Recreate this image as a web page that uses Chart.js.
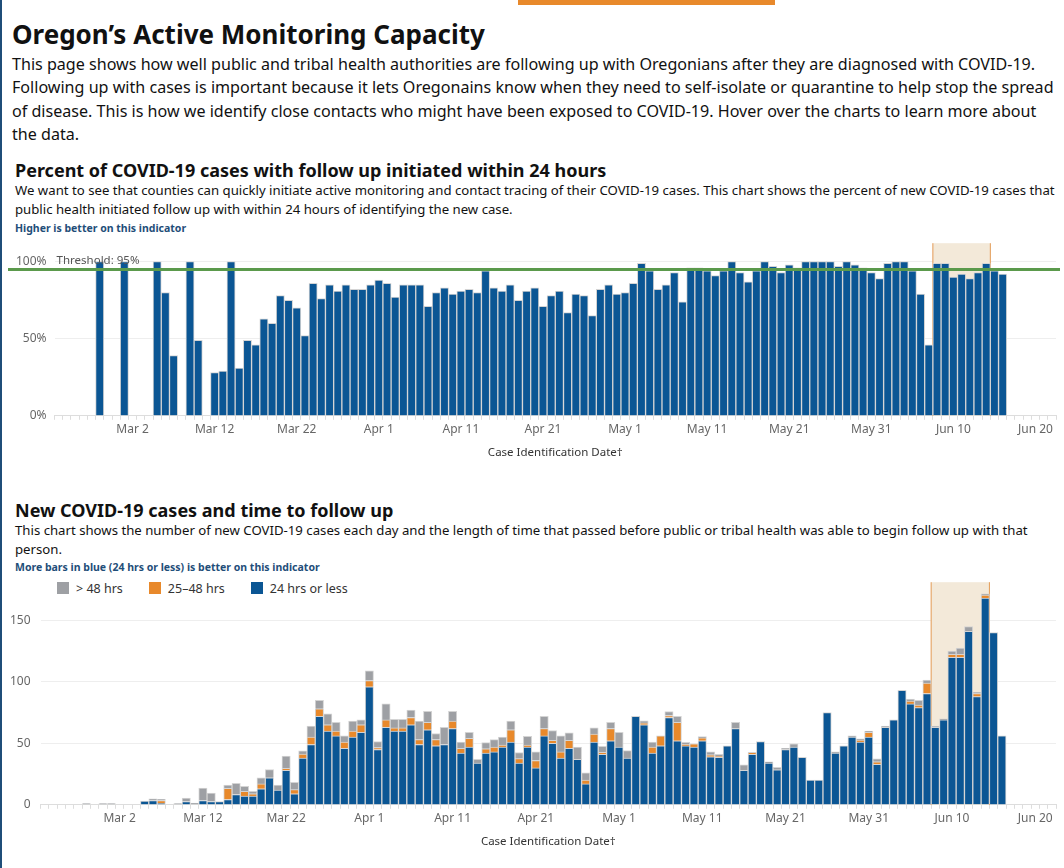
<!DOCTYPE html>
<html lang="en">
<head>
<meta charset="UTF-8">
<title>Oregon's Active Monitoring Capacity</title>
<script src="https://cdn.jsdelivr.net/npm/chart.js"></script>
<style>
    body { margin: 0; width: 1064px; height: 868px; position: relative; overflow: hidden; background: #fff;
           font-family: "Noto Sans", "Open Sans", sans-serif; color: #111; }
    .leftbar { position: absolute; left: 0; top: 0; width: 2px; height: 868px; background: #1f4e79; }
    .topbar { position: absolute; left: 518px; top: 0; width: 257px; height: 5px; background: #e8892b; }
    h1 { position: absolute; left: 12px; top: 16px; margin: 0; font-size: 26px; font-weight: 700; }
    .intro { position: absolute; left: 12px; top: 53px; width: 1042px; margin: 0; font-size: 16.1px; line-height: 23.3px; }
    h2 { position: absolute; left: 15px; margin: 0; font-size: 18px; font-weight: 700; }
    .sub { position: absolute; left: 15px; width: 1040px; margin: 0; font-size: 13.2px; line-height: 19px; }
    .note { position: absolute; left: 15px; margin: 0; font-size: 10.5px; font-weight: 700; color: #1f4e79; }
    .legend { position: absolute; left: 57px; top: 580px; font-size: 12.5px; color: #333; display: flex; gap: 26px; }
    .legend span i { display: inline-block; width: 12px; height: 12px; margin-right: 7px; vertical-align: -1px; }
    .box { position: absolute; }
</style>
</head>
<body>
<div class="leftbar"></div>
<div class="topbar"></div>
<h1>Oregon’s Active Monitoring Capacity</h1>
<p class="intro">This page shows how well public and tribal health authorities are following up with Oregonians after they are diagnosed with COVID-19. Following up with cases is important because it lets Oregonains know when they need to self-isolate or quarantine to help stop the spread of disease. This is how we identify close contacts who might have been exposed to COVID-19. Hover over the charts to learn more about the data.</p>

<h2 style="top:158px">Percent of COVID-19 cases with follow up initiated within 24 hours</h2>
<p class="sub" style="top:181px">We want to see that counties can quickly initiate active monitoring and contact tracing of their COVID-19 cases. This chart shows the percent of new COVID-19 cases that public health initiated follow up with within 24 hours of identifying the new case.</p>
<p class="note" style="top:221px">Higher is better on this indicator</p>
<div class="box" style="left:8px; top:228px; width:1052px; height:236px;"><canvas id="pctChart"></canvas></div>

<h2 style="top:498px">New COVID-19 cases and time to follow up</h2>
<p class="sub" style="top:521px">This chart shows the number of new COVID-19 cases each day and the length of time that passed before public or tribal health was able to begin follow up with that person.</p>
<p class="note" style="top:560px">More bars in blue (24 hrs or less) is better on this indicator</p>
<div class="legend">
    <span><i style="background:#9ea0a4"></i>&gt; 48 hrs</span>
    <span><i style="background:#e8892b"></i>25–48 hrs</span>
    <span><i style="background:#0b5694"></i>24 hrs or less</span>
</div>
<div class="box" style="left:0px; top:565px; width:1060px; height:288px;"><canvas id="caseChart"></canvas></div>

<script>
    // days from Feb 22 to Jun 22, 2020
    const startDate = new Date(2020, 1, 22);
    const dayCount = 122;
    const months = ['Jan','Feb','Mar','Apr','May','Jun'];
    const dates = [];
    for (let i = 0; i < dayCount; i++) {
        const d = new Date(startDate); d.setDate(d.getDate() + i);
        dates.push(months[d.getMonth()] + ' ' + d.getDate());
    }
    const tickLabels = ['Mar 2','Mar 12','Mar 22','Apr 1','Apr 11','Apr 21','May 1','May 11','May 21','May 31','Jun 10','Jun 20'];
    const highlight = ['Jun 8', 'Jun 14'];
    const threshold = 95;

    // percent with follow up within 24 hours (Feb 22 .. Jun 22)
    const pct = [
        null,null,null,null,null,100,null,null,
        100,null,null,null,100,80,39,null,100,49, null,28,29,100,31,49,46,63,60,78, 75,70,52,86,76,85,81,85,82,82, 85,
        88,86,77,85,85,85,71,80,83,79, 81,82,80,94,83,81,85,75,81,83, 71,78,81,67,79,78,65,82,85,79,
        80,86,99,94,82,85,93,74,96,96, 94,91,94,100,93,87,94,100,97,93, 98,96,100,100,100,100,97,100,98,96, 93,
        89,99,100,100,94,79,46,99,99,90, 92,89,93,99,94,92, null,null,null,null,null,null
    ];

    // new cases by time to follow up
    const within24 = [
        0,0,0,0,0,0,0,0,
        0,0,0,0,3,3.5,1,0,0,2.7, 0,3.5,2.7,2.7,4.3,8.4,7,7,13,22, 12,28,9,38,49,72,60,56,46,55, 59,
        96,45,63,60,60,65,49,61,48,49, 62,42,47,34,42,43,47,51,34,47, 30,56,50,38,46,37,17,51,41,52,
        47,38,72,65,42,48,71,52,48,47, 52,39,38.5,48,62,28,41,51.5,34,28.5, 45,47,38.5,20,20,75,42,48,55,51, 55,
        33,63,69,93,82,79,90.5,63,69,120, 120,141,88,168,140,56, null,null,null,null,null,null
    ];
    const hrs25to48 = [
        0,0,0,0,0,0,0,0,
        0,0,0,0,0,0,2.5,0,0,0, 0,0,0,0,9,0,4,2,4,0, 0,1.6,3.3,3.3,6,6,5,4,5,5, 6,
        5,1.5,6,2.5,2.5,6,4,6,5,0, 6,4,7,0,3.5,4,1.6,10,3.5,1.6, 6,6,2.4,5,6.5,0,3,6.5,1.6,10,
        0,0,0,1.6,5,8,1.6,15,1,2.5, 2.4,1.6,1,0,0,0,1.6,0,0,0, 0,0,0,0,0,0,0,0,0,1.6, 4,
        2,0,0,0,2.4,2,8.5,0,0,2.4, 2.4,0,2.5,2.5,0,0, null,null,null,null,null,null
    ];
    const over48 = [
        0,0,0,0,0,1,0,1,
        1,0,0,0,0,1.4,1,0,1,2.7, 1.4,10,6.8,0,2.7,9,4,2,5,6.6, 4,10,6,2.5,9,7,9,7,5,8, 4,
        8,5,13,7,7,6,15,9,5,14, 8,5,5,3,5,6,6.5,7,5,7, 7,10,8,13,6,10,6,5,5,5,
        12,6,0,1.6,4,0,3.3,5,1.7,0, 1,2.5,1.6,0,5,4.6,0,0,1,2, 1,2.5,0,0,0,0,1,0,1,1, 1,
        2.4,1,0,0,1.6,4,2.5,1,1,2.5, 5,4,1,1,0,0, null,null,null,null,null,null
    ];

    const BLUE = '#0b5694', ORANGE = '#e8892b', GREY = '#9ea0a4';

    // shaded band + threshold line
    const decorations = {
        id: 'decorations',
        beforeDatasetsDraw(chart, args, opts) {
            const x = chart.scales.x, area = chart.chartArea, ctx = chart.ctx;
            const half = (x.getPixelForValue(1) - x.getPixelForValue(0)) / 2;
            const x0 = x.getPixelForValue(dates.indexOf(highlight[0])) - half;
            const x1 = x.getPixelForValue(dates.indexOf(highlight[1])) + half;
            ctx.save();
            ctx.fillStyle = '#f3e9d9';
            ctx.fillRect(x0, area.top, x1 - x0, area.bottom - area.top);
            ctx.strokeStyle = '#e39a55';
            ctx.lineWidth = 1;
            ctx.beginPath();
            ctx.moveTo(x0, area.top); ctx.lineTo(x0, area.bottom);
            ctx.moveTo(x1, area.top); ctx.lineTo(x1, area.bottom);
            ctx.stroke();
            ctx.restore();
        },
        afterDatasetsDraw(chart, args, opts) {
            if (!opts.threshold) return;
            const y = chart.scales.y.getPixelForValue(threshold), area = chart.chartArea, ctx = chart.ctx;
            ctx.save();
            ctx.strokeStyle = '#5b9a4c';
            ctx.lineWidth = 3;
            ctx.beginPath(); ctx.moveTo(0, y); ctx.lineTo(chart.width, y); ctx.stroke();
            ctx.fillStyle = '#555';
            ctx.font = '11.5px "Noto Sans", sans-serif';
            ctx.textBaseline = 'bottom';
            ctx.fillText('Threshold: 95%', area.left + 2, y - 3);
            ctx.restore();
        }
    };

    function xAxis() {
        return {
            grid: { drawOnChartArea: false, color: '#ddd', tickLength: 4 },
            border: { color: '#ddd' },
            ticks: {
                autoSkip: false, maxRotation: 0, color: '#666',
                font: { size: 12, family: 'Noto Sans' },
                callback: (v, i) => tickLabels.includes(dates[i]) ? dates[i] : ''
            },
            title: { display: true, text: 'Case Identification Date†', color: '#333',
                     font: { size: 11.5, family: 'Noto Sans' }, padding: { top: 6 } }
        };
    }

    const barStyle = { borderColor: '#d4d4d4', borderWidth: 1, barPercentage: 1, categoryPercentage: 1 };

    new Chart(document.getElementById('pctChart'), {
        type: 'bar',
        data: { labels: dates, datasets: [{ data: pct, backgroundColor: BLUE, ...barStyle }] },
        options: {
            responsive: true, maintainAspectRatio: false, animation: false,
            layout: { padding: { top: 2, right: 4 } },
            plugins: { legend: { display: false }, tooltip: { enabled: false }, decorations: { threshold: true } },
            scales: {
                x: xAxis(),
                y: {
                    min: 0, max: 112,
                    afterBuildTicks: ax => { ax.ticks = [0, 50, 100].map(v => ({ value: v })); },
                    grid: { color: '#eee', drawTicks: false },
                    border: { display: false },
                    ticks: { color: '#666', font: { size: 12, family: 'Noto Sans' }, padding: 8, callback: v => v + '%' }
                }
            }
        },
        plugins: [decorations]
    });

    new Chart(document.getElementById('caseChart'), {
        type: 'bar',
        data: {
            labels: dates,
            datasets: [
                { label: '24 hrs or less', data: within24, backgroundColor: BLUE, ...barStyle },
                { label: '25–48 hrs', data: hrs25to48, backgroundColor: ORANGE, ...barStyle },
                { label: '> 48 hrs', data: over48, backgroundColor: GREY, ...barStyle }
            ]
        },
        options: {
            responsive: true, maintainAspectRatio: false, animation: false,
            layout: { padding: { top: 4, right: 4 } },
            plugins: { legend: { display: false }, tooltip: { enabled: false }, decorations: { threshold: false } },
            scales: {
                x: { ...xAxis(), stacked: true },
                y: {
                    stacked: true, min: 0, max: 181,
                    afterBuildTicks: ax => { ax.ticks = [0, 50, 100, 150].map(v => ({ value: v })); },
                    grid: { color: '#eee', drawTicks: false },
                    border: { display: false },
                    ticks: { color: '#666', font: { size: 12, family: 'Noto Sans' }, padding: 10 }
                }
            }
        },
        plugins: [decorations]
    });
</script>
</body>
</html>
